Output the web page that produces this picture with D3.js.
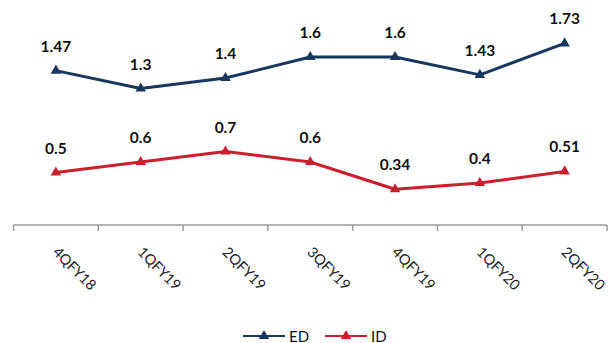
<!DOCTYPE html>
<html>
<head>
<meta charset="utf-8">
<script src="https://cdn.jsdelivr.net/npm/d3@7"></script>
<style>
  html, body { margin: 0; padding: 0; background: #fff; }
  svg { display: block; }
</style>
</head>
<body>
<svg id="chart" width="608" height="343"></svg>
<script>
// Quarters on the x axis
const quarters = ["4QFY18", "1QFY19", "2QFY19", "3QFY19", "4QFY19", "1QFY20", "2QFY20"];
// Series values
const edValues = [1.47, 1.3, 1.4, 1.6, 1.6, 1.43, 1.73];
const idValues = [0.5, 0.6, 0.7, 0.6, 0.34, 0.4, 0.51];
const seriesNames = ["ED", "ID"];
const seriesColors = ["#17375E", "#C8202F"];

const svg = d3.select("#chart");
const font = "Lato, 'Open Sans', sans-serif";

const x = d3.scaleBand().domain(quarters).range([13.5, 607]);
const y = d3.scaleLinear().domain([0, 2]).range([225, 15]);

// Category axis with ticks between categories
const axisG = svg.append("g");
axisG.append("line")
  .attr("x1", x.range()[0]).attr("x2", x.range()[1])
  .attr("y1", y(0)).attr("y2", y(0))
  .attr("stroke", "#999").attr("stroke-width", 1.5);
const tickPos = quarters.map(q => x(q)).concat([x.range()[1]]);
axisG.selectAll(".tk").data(tickPos).enter().append("line")
  .attr("x1", d => d).attr("x2", d => d)
  .attr("y1", y(0)).attr("y2", y(0) + 6)
  .attr("stroke", "#999").attr("stroke-width", 1.5);
axisG.selectAll(".lbl").data(quarters).enter().append("text")
  .attr("transform", d => `translate(${x(d) + x.bandwidth() / 2 - 4},${y(0) + 28}) rotate(45)`)
  .attr("font-family", font).attr("font-size", 14.5).attr("fill", "#222")
  .text(d => d);

const series = [edValues, idValues];
const line = d3.line()
  .x((d, i) => x(quarters[i]) + x.bandwidth() / 2)
  .y(d => y(d));
const tri = d3.symbol().type(d3.symbolTriangle).size(48);

series.forEach((vals, s) => {
  const g = svg.append("g");
  g.append("path").datum(vals)
    .attr("d", line).attr("fill", "none")
    .attr("stroke", seriesColors[s]).attr("stroke-width", 3)
    .attr("stroke-linejoin", "round");
  g.selectAll(".m").data(vals).enter().append("path")
    .attr("d", tri)
    .attr("transform", (d, i) => `translate(${x(quarters[i]) + x.bandwidth() / 2},${y(d)})`)
    .attr("fill", seriesColors[s]);
  g.selectAll(".v").data(vals).enter().append("text")
    .attr("x", (d, i) => x(quarters[i]) + x.bandwidth() / 2)
    .attr("y", d => y(d) - 19)
    .attr("text-anchor", "middle")
    .attr("font-family", font).attr("font-size", 15.5).attr("font-weight", "bold")
    .attr("fill", "#111")
    .text(d => d);
});

// Legend
const legend = svg.append("g");
const legX = [243, 325];
seriesNames.forEach((name, i) => {
  const lg = legend.append("g").attr("transform", `translate(${legX[i]},336)`);
  lg.append("line").attr("x1", 0).attr("x2", 42).attr("y1", 0).attr("y2", 0)
    .attr("stroke", seriesColors[i]).attr("stroke-width", 2);
  lg.append("path").attr("d", tri).attr("transform", "translate(21,0)").attr("fill", seriesColors[i]);
  lg.append("text").attr("x", 46).attr("y", 5.5)
    .attr("font-family", font).attr("font-size", 15).attr("fill", "#111")
    .text(name);
});
</script>
</body>
</html>
